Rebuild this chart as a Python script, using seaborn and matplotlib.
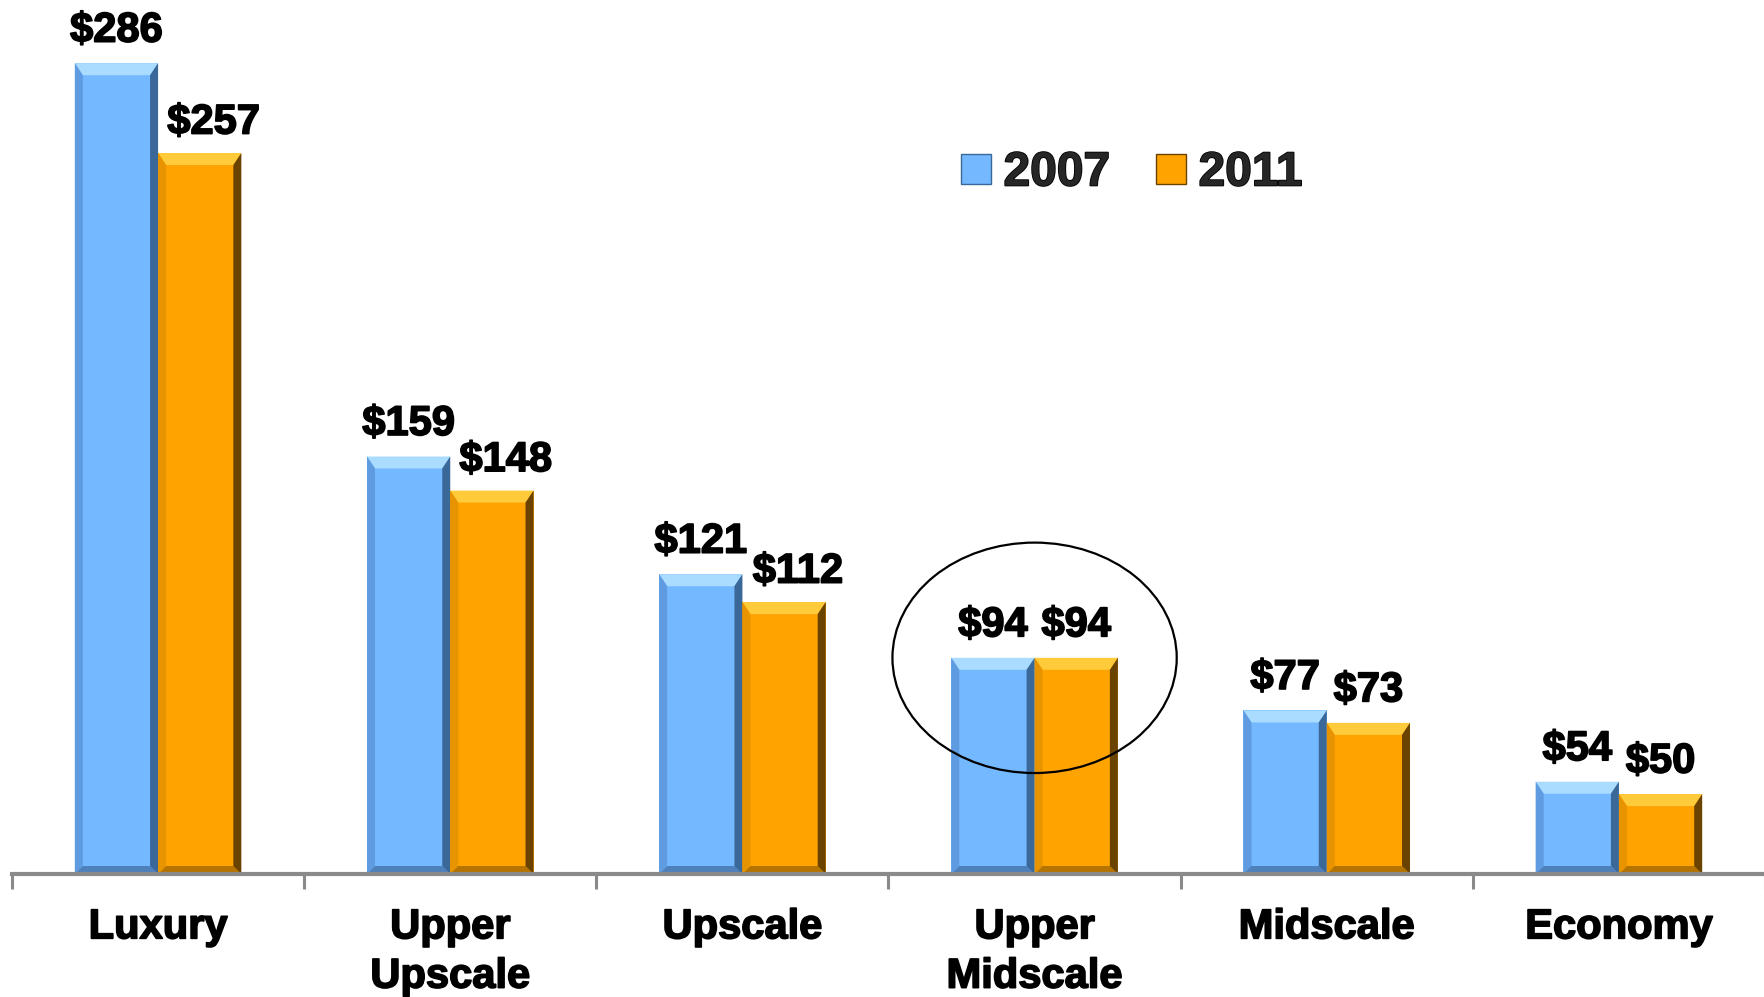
import matplotlib
matplotlib.use("Agg")
import matplotlib.pyplot as plt
from matplotlib.patches import Polygon, Ellipse
from matplotlib.lines import Line2D
import matplotlib.patheffects as pe
import numpy as np
import pandas as pd
import seaborn as sns

# Average daily rate by chain scale
segments = ["Luxury", "Upper\nUpscale", "Upscale", "Upper\nMidscale", "Midscale", "Economy"]
years = ["2007", "2011"]
adr_2007 = [286, 159, 121, 94, 77, 54]
adr_2011 = [257, 148, 112, 94, 73, 50]

colors = {"2007": "#74B8FF", "2011": "#FFA300"}
bevel = {
    "2007": dict(top="#A9DCFF", left="#5E9BE0", right="#3A6898", bottom="#4E80BC"),
    "2011": dict(top="#FFCB3A", left="#E89300", right="#6A4300", bottom="#B57300"),
}

df = pd.DataFrame({
    "segment": segments * 2,
    "year": [years[0]] * len(segments) + [years[1]] * len(segments),
    "adr": adr_2007 + adr_2011,
})

sns.set_theme(style="white")
plt.rcParams["font.family"] = ["Liberation Sans", "DejaVu Sans"]

W, H = 1765, 997
fig = plt.figure(figsize=(W / 100, H / 100), dpi=100)
base_px = 874
ax = fig.add_axes([12 / W, (H - base_px) / H, 1 - 12 / W, base_px / H])

sns.barplot(data=df, x="segment", y="adr", hue="year", order=segments,
            hue_order=years, palette=colors, width=0.57, saturation=1,
            edgecolor="none", linewidth=0, legend=False, ax=ax)

ax.set_xlim(-0.5, len(segments) - 0.5)
ax.set_ylim(24.2, 306.4)

# bevelled look on every bar
inv = ax.transData.inverted()
y0 = ax.get_ylim()[0]
for cont, yr in zip(ax.containers, years):
    bv = bevel[yr]
    for p in cont.patches:
        x, w, h = p.get_x(), p.get_width(), p.get_height()
        (L, B), (R, T) = ax.transData.transform([(x, max(p.get_y(), y0)), (x + w, h)])
        t, s, b = 12, 8, 8
        shapes = {
            "top": [(L, T), (R, T), (R - s, T - t), (L + s, T - t)],
            "left": [(L, T), (L + s, T - t), (L + s, B + b), (L, B)],
            "bottom": [(L, B), (R, B), (R - s, B + b), (L + s, B + b)],
            "right": [(R, T), (R, B), (R - s, B + b), (R - s, T - t)],
        }
        for key, pts in shapes.items():
            ax.add_patch(Polygon(inv.transform(pts), closed=True, facecolor=bv[key],
                                 edgecolor="none", zorder=p.get_zorder() + 0.1))

# value labels; wide 2011 labels nudged right so they clear their neighbours
stroke = [pe.withStroke(linewidth=1.2, foreground="black")]
for cont, yr in zip(ax.containers, years):
    labels = ax.bar_label(cont, fmt="${:.0f}", padding=9, fontsize=30,
                          fontweight="bold", color="black")
    for lb, p in zip(labels, cont.patches):
        lb.set_path_effects(stroke)
        if yr == "2011" and p.get_height() >= 100:
            dx, dy = lb.xyann
            lb.xyann = (dx + 10, dy - 1.5)

# highlight the unchanged segment
ax.add_patch(Ellipse((3, adr_2007[3]), width=0.973, height=74.4, fill=False,
                     edgecolor="black", linewidth=1.6, zorder=10))

# axes styling
for side in ["left", "right", "top"]:
    ax.spines[side].set_visible(False)
ax.spines["bottom"].set_color("#8A8A8A")
ax.spines["bottom"].set_linewidth(3)
ax.spines["bottom"].set_zorder(12)
ax.set_yticks([])
ax.set_xlabel("")
ax.set_ylabel("")
ax.set_xticks(range(len(segments)))
ax.set_xticklabels(segments, fontsize=30, fontweight="bold", linespacing=1.3)
ax.set_xticks(np.arange(-0.5, len(segments), 1.0), minor=True)
ax.tick_params(axis="x", which="major", length=0, pad=24, colors="black")
ax.tick_params(axis="x", which="minor", length=11, width=2.2, color="#8A8A8A",
               direction="out", bottom=True)
for lb in ax.get_xticklabels():
    lb.set_path_effects(stroke)

# legend
handles = [Line2D([0], [0], marker="s", linestyle="none", markersize=21,
                  markerfacecolor=colors[y], markeredgecolor=bevel[y]["right"],
                  markeredgewidth=1.0) for y in years]
leg = ax.legend(handles, years, ncol=2, loc="center left",
                bbox_to_anchor=(958 / W, 1 - 173 / H), bbox_transform=fig.transFigure,
                frameon=False, handlelength=0.75, handletextpad=0.2,
                columnspacing=0.9, borderpad=0, borderaxespad=0,
                prop={"size": 34.5, "weight": "bold"})
for t in leg.get_texts():
    t.set_path_effects(stroke)

fig.savefig("out.png", dpi=100, facecolor="white")
